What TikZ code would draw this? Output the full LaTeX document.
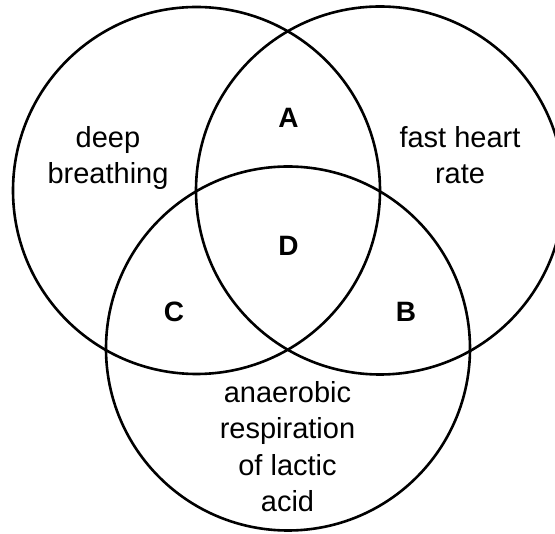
\documentclass[tikz,border=0pt]{standalone}
\usepackage{fontspec}
\setmainfont{Liberation Sans}
\begin{document}
\begin{tikzpicture}[x=1pt,y=-1pt,
  ring/.style={line width=2.6pt, draw=black},
  lab/.style={font=\fontsize{29}{36.5}\selectfont, align=center, inner sep=0pt},
  letter/.style={font=\bfseries\fontsize{28}{30}\selectfont, inner sep=0pt}]
\useasboundingbox (0,0) rectangle (555,534);
\clip (0,0) rectangle (555,534);
\draw[ring] (196.5,190.5) circle[radius=183.5pt];
\draw[ring] (380,190.5) circle[radius=184pt];
\draw[ring] (288,348.5) circle[radius=182pt];
\node[lab, anchor=base] (deep) at (108,184) {deep\\breathing};
\node[lab, anchor=base] (fast) at (460,184) {fast heart\\rate};
\node[lab, anchor=base] (anaer) at (287.5,512) {anaerobic\\respiration\\of lactic\\acid};
\node[letter] (A) at (288.5,118) {A};
\node[letter] (D) at (288.5,246) {D};
\node[letter] (C) at (174,312) {C};
\node[letter] (B) at (406,312) {B};
\end{tikzpicture}
\end{document}
